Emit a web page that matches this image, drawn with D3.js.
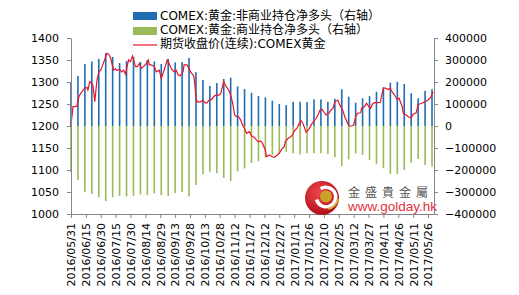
<!DOCTYPE html>
<html>
<head>
<meta charset="utf-8">
<script src="https://cdn.jsdelivr.net/npm/d3@7"></script>
<style>
  body { margin: 0; background: #fff; }
  svg text { font-family: 'DejaVu Sans', 'Noto Sans CJK SC', sans-serif; }
</style>
</head>
<body>
<svg id="chart" width="519" height="295"></svg>
<script>
// weekly COT positions (right axis)
var barDates = ["2016-05-31","2016-06-07","2016-06-14","2016-06-21","2016-06-28","2016-07-05","2016-07-12","2016-07-19","2016-07-26",
  "2016-08-02","2016-08-09","2016-08-16","2016-08-23","2016-08-30","2016-09-06","2016-09-13","2016-09-20","2016-09-27",
  "2016-10-04","2016-10-11","2016-10-18","2016-10-25","2016-11-01","2016-11-08","2016-11-15","2016-11-22","2016-11-29",
  "2016-12-06","2016-12-13","2016-12-20","2016-12-27","2017-01-03","2017-01-10","2017-01-17","2017-01-24","2017-01-31",
  "2017-02-07","2017-02-14","2017-02-21","2017-02-28","2017-03-07","2017-03-14","2017-03-21","2017-03-28","2017-04-04",
  "2017-04-11","2017-04-18","2017-04-25","2017-05-02","2017-05-09","2017-05-16","2017-05-23","2017-05-30"];
var nonCommercial = [197000,227000,282000,293000,305000,330000,314000,286000,295000,314000,291000,300000,293000,282000,
  305000,289000,291000,309000,245000,209000,182000,195000,214000,220000,180000,168000,151000,136000,130000,115000,
  100000,95000,110000,110000,109000,121000,121000,110000,124000,167000,133000,106000,126000,136000,156000,176000,
  197000,201000,191000,149000,126000,160000,167000];
var commercial = [-211000,-245000,-299000,-309000,-324000,-341000,-324000,-318000,-320000,-318000,-311000,-314000,
  -306000,-314000,-318000,-305000,-300000,-320000,-268000,-219000,-208000,-215000,-236000,-251000,-206000,-193000,
  -168000,-160000,-142000,-132000,-124000,-117000,-124000,-129000,-124000,-124000,-124000,-127000,-142000,-182000,
  -152000,-124000,-132000,-155000,-173000,-192000,-218000,-218000,-200000,-167000,-150000,-177000,-185000];

// futures close (left axis)
var priceDates = ["2016-05-31","2016-06-02","2016-06-04","2016-06-06","2016-06-08","2016-06-11","2016-06-14","2016-06-16",
  "2016-06-17","2016-06-19","2016-06-22","2016-06-23","2016-06-24","2016-06-26","2016-06-28","2016-06-30","2016-07-02",
  "2016-07-05","2016-07-06","2016-07-08","2016-07-10","2016-07-12","2016-07-13","2016-07-15","2016-07-16","2016-07-19",
  "2016-07-21","2016-07-23","2016-07-25","2016-07-26","2016-07-28","2016-07-30","2016-08-01","2016-08-02","2016-08-04",
  "2016-08-06","2016-08-08","2016-08-10","2016-08-12","2016-08-15","2016-08-17","2016-08-18","2016-08-20","2016-08-23",
  "2016-08-25","2016-08-28","2016-08-30","2016-09-01","2016-09-03","2016-09-05","2016-09-07","2016-09-09","2016-09-12",
  "2016-09-14","2016-09-16","2016-09-18","2016-09-21","2016-09-22","2016-09-25","2016-09-26","2016-09-29","2016-10-01",
  "2016-10-02","2016-10-04","2016-10-05","2016-10-08","2016-10-11","2016-10-13","2016-10-15","2016-10-17","2016-10-20",
  "2016-10-22","2016-10-24","2016-10-27","2016-10-29","2016-11-01","2016-11-03","2016-11-06","2016-11-08","2016-11-10",
  "2016-11-12","2016-11-14","2016-11-16","2016-11-18","2016-11-20","2016-11-22","2016-11-24","2016-11-27","2016-11-29",
  "2016-12-02","2016-12-04","2016-12-06","2016-12-08","2016-12-10","2016-12-13","2016-12-14","2016-12-17","2016-12-20",
  "2016-12-22","2016-12-25","2016-12-27","2016-12-30","2017-01-01","2017-01-02","2017-01-05","2017-01-08","2017-01-10",
  "2017-01-12","2017-01-14","2017-01-16","2017-01-18","2017-01-20","2017-01-23","2017-01-26","2017-01-28","2017-01-30",
  "2017-02-02","2017-02-04","2017-02-06","2017-02-08","2017-02-11","2017-02-12","2017-02-15","2017-02-17","2017-02-19",
  "2017-02-21","2017-02-24","2017-02-26","2017-03-01","2017-03-03","2017-03-06","2017-03-08","2017-03-10","2017-03-12",
  "2017-03-14","2017-03-16","2017-03-19","2017-03-20","2017-03-23","2017-03-25","2017-03-27","2017-03-29","2017-03-31",
  "2017-04-02","2017-04-05","2017-04-08","2017-04-09","2017-04-11","2017-04-13","2017-04-16","2017-04-18","2017-04-19",
  "2017-04-21","2017-04-23","2017-04-25","2017-04-27","2017-04-28","2017-04-30","2017-05-01","2017-05-04","2017-05-06",
  "2017-05-09","2017-05-11","2017-05-14","2017-05-16","2017-05-19","2017-05-23","2017-05-26","2017-05-29","2017-05-31"];
var prices = [1202,1244,1244,1245,1267,1278,1286,1288,1282,1301,1293,1276,1255,1301,1323,1327,1339,1357,1365,1363,
  1354,1335,1327,1330,1326,1329,1323,1327,1318,1329,1350,1346,1359,1352,1335,1335,1342,1331,1335,1342,1350,1339,
  1339,1335,1323,1327,1308,1321,1335,1350,1342,1331,1323,1327,1316,1314,1323,1339,1339,1335,1321,1316,1312,1267,
  1255,1255,1258,1253,1252,1258,1261,1267,1270,1270,1274,1301,1291,1282,1270,1252,1225,1221,1221,1214,1202,1195,
  1183,1187,1177,1174,1168,1164,1166,1161,1145,1130,1134,1130,1129,1134,1138,1149,1153,1164,1172,1176,1183,1191,
  1195,1206,1212,1205,1186,1193,1202,1209,1217,1225,1236,1238,1229,1225,1229,1236,1240,1255,1259,1248,1236,1221,
  1206,1200,1200,1202,1221,1229,1230,1240,1244,1252,1245,1240,1250,1253,1253,1254,1267,1286,1286,1283,1286,1280,
  1274,1267,1261,1263,1255,1244,1229,1225,1221,1218,1227,1230,1249,1251,1255,1259,1266,1278];

var xTickLabels = ["2016/05/31","2016/06/15","2016/06/30","2016/07/15","2016/07/30","2016/08/14","2016/08/29",
  "2016/09/13","2016/09/28","2016/10/13","2016/10/28","2016/11/12","2016/11/27","2016/12/12","2016/12/27",
  "2017/01/11","2017/01/26","2017/02/10","2017/02/25","2017/03/12","2017/03/27","2017/04/11","2017/04/26",
  "2017/05/11","2017/05/26"];
var leftTicks = [1000,1050,1100,1150,1200,1250,1300,1350,1400];
var rightTicks = [-400000,-300000,-200000,-100000,0,100000,200000,300000,400000];
var legendLabels = ["COMEX:黄金:非商业持仓净多头（右轴）","COMEX:黄金:商业持仓净多头（右轴）","期货收盘价(连续):COMEX黄金"];

function draw() {
  var svg = d3.select("#chart");
  var mLeft = 71, mRight = 434, mTop = 38, mBottom = 214;
  var axisColor = "#868686";
  var blue = "#1f6db3", green = "#9bbb59", red = "#e8142a";

  var parse = d3.timeParse("%Y-%m-%d");
  var parseTick = d3.timeParse("%Y/%m/%d");

  var x = d3.scaleTime()
    .domain([parse("2016-05-31"), parse("2017-06-01")])
    .range([mLeft, mRight]);
  var yL = d3.scaleLinear().domain([1000, 1400]).range([mBottom, mTop]);
  var yR = d3.scaleLinear().domain([-400000, 400000]).range([mBottom, mTop]);

  // bars
  var bw = 1.6;
  svg.append("g").selectAll("rect").data(barDates).enter().append("rect")
    .attr("x", function (d) { return x(parse(d)) - bw / 2; })
    .attr("y", function (d, i) { return yR(nonCommercial[i]); })
    .attr("width", bw)
    .attr("height", function (d, i) { return yR(0) - yR(nonCommercial[i]); })
    .attr("fill", blue);
  svg.append("g").selectAll("rect").data(barDates).enter().append("rect")
    .attr("x", function (d) { return x(parse(d)) - bw / 2; })
    .attr("y", yR(0))
    .attr("width", bw)
    .attr("height", function (d, i) { return yR(commercial[i]) - yR(0); })
    .attr("fill", green);

  // price line
  var line = d3.line()
    .x(function (d) { return x(parse(d)); })
    .y(function (d, i) { return yL(prices[i]); });
  svg.append("path").datum(priceDates)
    .attr("d", line)
    .attr("fill", "none")
    .attr("stroke", red)
    .attr("stroke-width", 1.2);

  // axes
  var gL = svg.append("g").attr("transform", "translate(" + mLeft + ",0)")
    .call(d3.axisLeft(yL).tickValues(leftTicks).tickSize(4).tickSizeOuter(0)
      .tickFormat(d3.format("d")));
  var gR = svg.append("g").attr("transform", "translate(" + mRight + ",0)")
    .call(d3.axisRight(yR).tickValues(rightTicks).tickSize(4).tickSizeOuter(0).tickPadding(7)
      .tickFormat(d3.format("d")));
  var gB = svg.append("g").attr("transform", "translate(0," + mBottom + ")")
    .call(d3.axisBottom(x).tickValues(xTickLabels.map(parseTick)).tickSize(4).tickSizeOuter(0)
      .tickFormat(d3.timeFormat("%Y/%m/%d")));

  [gL, gR, gB].forEach(function (g) {
    g.selectAll("path, line").attr("stroke", axisColor);
    g.selectAll("text").attr("fill", "#000").style("font-size", "11px");
  });
  gL.selectAll("text").attr("x", -12);
  gB.selectAll("text")
    .attr("transform", "rotate(-90)")
    .attr("text-anchor", "end")
    .attr("x", -9)
    .attr("y", 0)
    .attr("dy", "0.35em");

  // legend
  var lg = svg.append("g");
  lg.append("rect").attr("x", 133).attr("y", 12).attr("width", 24).attr("height", 8).attr("fill", blue);
  lg.append("rect").attr("x", 133).attr("y", 27).attr("width", 24).attr("height", 8).attr("fill", green);
  lg.append("line").attr("x1", 133).attr("x2", 157).attr("y1", 45).attr("y2", 45)
    .attr("stroke", red).attr("stroke-width", 1.2);
  lg.selectAll("text").data(legendLabels).enter().append("text")
    .attr("x", 160)
    .attr("y", function (d, i) { return 15 + i * 14.3; })
    .attr("dy", "0.38em")
    .style("font-size", "12px")
    .attr("fill", "#000")
    .text(function (d) { return d; });

  // watermark logo
  var logo = svg.append("g").attr("transform", "translate(322,198)");
  var grad = svg.append("defs").append("radialGradient").attr("id", "rg")
    .attr("cx", "40%").attr("cy", "35%").attr("r", "65%");
  grad.append("stop").attr("offset", "0%").attr("stop-color", "#f0464c");
  grad.append("stop").attr("offset", "100%").attr("stop-color", "#b3101c");
  logo.append("circle").attr("r", 17).attr("fill", "url(#rg)");
  logo.append("path")
    .attr("d", d3.arc().innerRadius(8).outerRadius(11.5).startAngle(Math.PI * 0.15).endAngle(Math.PI * 1.75)())
    .attr("transform", "translate(4,-1) rotate(-60)")
    .attr("fill", "#fff");
  logo.append("path")
    .attr("d", d3.arc().innerRadius(11).outerRadius(13).startAngle(Math.PI * 0.55).endAngle(Math.PI * 0.95)())
    .attr("transform", "translate(4,-1)")
    .attr("fill", "#d9b23a");
  logo.append("circle").attr("cx", 4).attr("cy", -1.5).attr("r", 6).attr("fill", "#c9a227");
  svg.append("text").attr("x", 348).attr("y", 192.5).attr("dy", "0.36em")
    .style("font-family", "'Noto Sans CJK TC','Noto Sans CJK SC',sans-serif")
    .style("font-size", "12px").style("letter-spacing", "5px")
    .attr("fill", "#555").text("金盛貴金屬");
  svg.append("text").attr("x", 348).attr("y", 206.5).attr("dy", "0.35em")
    .style("font-family", "'Liberation Sans',Arial,sans-serif")
    .style("font-size", "13.5px")
    .attr("fill", "#e2323c").text("www.golday.hk");
}
draw();
</script>
</body>
</html>
